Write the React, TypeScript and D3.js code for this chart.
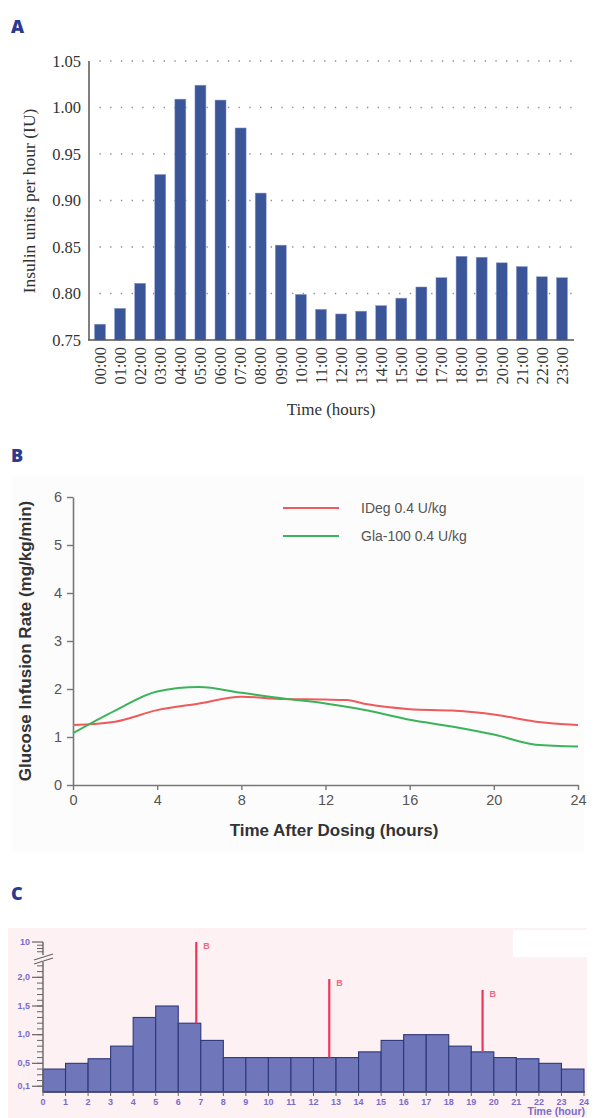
import * as d3 from "d3";
import { useEffect, useRef } from "react";

// ---- panel A: hourly basal insulin ----
const hourLabels = [
  "00:00", "01:00", "02:00", "03:00", "04:00", "05:00", "06:00", "07:00",
  "08:00", "09:00", "10:00", "11:00", "12:00", "13:00", "14:00", "15:00",
  "16:00", "17:00", "18:00", "19:00", "20:00", "21:00", "22:00", "23:00",
];
const insulinRate = [
  0.767, 0.784, 0.811, 0.928, 1.009, 1.024, 1.008, 0.978,
  0.908, 0.852, 0.799, 0.783, 0.778, 0.781, 0.787, 0.795,
  0.807, 0.817, 0.840, 0.839, 0.833, 0.829, 0.818, 0.817,
];
const insulinTicks = [0.75, 0.8, 0.85, 0.9, 0.95, 1.0, 1.05];

// ---- panel B: glucose infusion rate ----
const girHours = [0, 2, 4, 6, 8, 10, 12, 13, 14, 16, 18, 20, 22, 24];
const idegGir = [1.25, 1.32, 1.56, 1.70, 1.84, 1.79, 1.78, 1.77, 1.68, 1.58, 1.55, 1.47, 1.32, 1.25];
const glaGir = [1.08, 1.55, 1.95, 2.04, 1.92, 1.80, 1.70, 1.63, 1.55, 1.36, 1.22, 1.05, 0.84, 0.80];
const girXTicks = [0, 4, 8, 12, 16, 20, 24];
const girYTicks = [0, 1, 2, 3, 4, 5, 6];
const seriesNames = ["IDeg 0.4 U/kg", "Gla-100 0.4 U/kg"];

// ---- panel C: pump basal rate and boluses ----
const pumpHourTicks = [0, 1, 2, 3, 4, 5, 6, 7, 8, 9, 10, 11, 12, 13, 14, 15, 16, 17, 18, 19, 20, 21, 22, 23, 24];
const basalRate = [
  0.4, 0.5, 0.58, 0.8, 1.3, 1.5, 1.2, 0.9, 0.6, 0.6, 0.6, 0.6,
  0.6, 0.6, 0.7, 0.9, 1.0, 1.0, 0.8, 0.7, 0.6, 0.58, 0.5, 0.4,
];
const bolusTime = [6.8, 12.7, 19.5];
const bolusDose = [10, 1.97, 1.78];
const pumpYTicks = [0.1, 0.5, 1.0, 1.5, 2.0, 10];
const pumpYLabels = ["0,1", "0,5", "1,0", "1,5", "2,0", "10"];

const SERIF = "'Liberation Serif', 'Times New Roman', serif";
const SANS = "'Liberation Sans', Arial, sans-serif";

function App() {
  const ref = useRef<SVGSVGElement>(null);

  useEffect(() => {
    const svg = d3.select(ref.current);
    svg.selectAll("*").remove();

    // panel letters
    svg.selectAll(".letter")
      .data([["A", 33], ["B", 462], ["C", 900]])
      .join("text")
      .attr("x", 11)
      .attr("y", (d) => d[1])
      .text((d) => d[0])
      .attr("font-family", "'Open Sans', 'DejaVu Sans', sans-serif")
      .attr("font-weight", 800)
      .attr("font-size", 18)
      .attr("fill", "#2b3a8f");

    // ================= A =================
    const gA = svg.append("g");
    const xA = d3.scaleBand().domain(hourLabels).range([89, 573]).paddingInner(0.453).paddingOuter(0.274);
    const yA = d3.scaleLinear().domain([0.75, 1.05]).range([340, 61]);

    gA.selectAll(".grid")
      .data(insulinTicks.slice(1))
      .join("line")
      .attr("x1", 99.5)
      .attr("x2", 575)
      .attr("y1", (d) => yA(d))
      .attr("y2", (d) => yA(d))
      .attr("stroke", "#8a8a8a")
      .attr("stroke-width", 1.3)
      .attr("stroke-dasharray", "1.3,9.4");

    gA.selectAll(".bar")
      .data(insulinRate)
      .join("rect")
      .attr("x", (d, i) => xA(hourLabels[i]))
      .attr("width", xA.bandwidth())
      .attr("y", (d) => yA(d))
      .attr("height", (d) => yA(0.75) - yA(d))
      .attr("fill", "#3a5598")
      .attr("stroke", "#8f9bd0")
      .attr("stroke-width", 0.5);

    gA.append("line").attr("x1", 89).attr("x2", 89).attr("y1", 61).attr("y2", 340)
      .attr("stroke", "#555").attr("stroke-width", 1.5);
    gA.append("line").attr("x1", 88).attr("x2", 574).attr("y1", 340).attr("y2", 340)
      .attr("stroke", "#555").attr("stroke-width", 1.5);

    gA.selectAll(".ylab")
      .data(insulinTicks)
      .join("text")
      .attr("x", 81)
      .attr("y", (d) => yA(d))
      .attr("dy", "0.35em")
      .attr("text-anchor", "end")
      .text((d) => d.toFixed(2))
      .attr("font-family", SERIF)
      .attr("font-size", 16.5)
      .attr("fill", "#333");

    gA.selectAll(".xlab")
      .data(hourLabels)
      .join("text")
      .attr("transform", (d) => `translate(${xA(d) + xA.bandwidth() / 2}, 347) rotate(-90)`)
      .attr("dy", "0.35em")
      .attr("text-anchor", "end")
      .text((d) => d)
      .attr("font-family", SERIF)
      .attr("font-size", 16.5)
      .attr("fill", "#333");

    gA.append("text")
      .attr("x", 331)
      .attr("y", 415)
      .attr("text-anchor", "middle")
      .text("Time (hours)")
      .attr("font-family", SERIF)
      .attr("font-size", 17)
      .attr("fill", "#333");

    gA.append("text")
      .attr("transform", "translate(35, 201) rotate(-90)")
      .attr("text-anchor", "middle")
      .text("Insulin units per hour (IU)")
      .attr("font-family", SERIF)
      .attr("font-size", 17.5)
      .attr("fill", "#333");

    // ================= B =================
    const gB = svg.append("g");
    gB.append("rect").attr("x", 11).attr("y", 476).attr("width", 573).attr("height", 376).attr("fill", "#fcfcfc");

    const xB = d3.scaleLinear().domain([0, 24]).range([73, 578]);
    const yB = d3.scaleLinear().domain([0, 6]).range([785, 497]);

    const axB = gB.append("g").attr("transform", "translate(0,785)")
      .call(d3.axisBottom(xB).tickValues(girXTicks).tickFormat(d3.format("d")).tickSize(5).tickSizeOuter(0).tickPadding(5));
    const ayB = gB.append("g").attr("transform", "translate(73,0)")
      .call(d3.axisLeft(yB).tickValues(girYTicks).tickFormat(d3.format("d")).tickSize(6).tickSizeOuter(0).tickPadding(5));
    [axB, ayB].forEach((ax) => {
      ax.select(".domain").attr("stroke", "#777").attr("stroke-width", 1.6);
      ax.selectAll(".tick line").attr("stroke", "#777").attr("stroke-width", 1.4);
      ax.selectAll(".tick text").attr("font-family", SANS).attr("font-size", 14.5).attr("fill", "#555");
    });

    const lineB = d3.line<number>()
      .x((d, i) => xB(girHours[i]))
      .y((d) => yB(d))
      .curve(d3.curveMonotoneX);

    const colorsB = ["#ef5a5c", "#3cb35b"];
    gB.selectAll(".series")
      .data([idegGir, glaGir])
      .join("path")
      .attr("d", (d) => lineB(d))
      .attr("fill", "none")
      .attr("stroke", (d, i) => colorsB[i])
      .attr("stroke-width", 2);

    const leg = gB.selectAll(".leg").data(seriesNames).join("g")
      .attr("transform", (d, i) => `translate(283, ${508 + i * 28})`);
    leg.append("line").attr("x1", 0).attr("x2", 56).attr("stroke", (d, i) => colorsB[i]).attr("stroke-width", 2.2);
    leg.append("text")
      .attr("x", 78)
      .attr("dy", "0.35em")
      .text((d) => d)
      .attr("font-family", SANS)
      .attr("font-size", 14)
      .attr("fill", "#555");

    gB.append("text")
      .attr("x", 334)
      .attr("y", 836)
      .attr("text-anchor", "middle")
      .text("Time After Dosing (hours)")
      .attr("font-family", SANS)
      .attr("font-weight", "bold")
      .attr("font-size", 17)
      .attr("fill", "#333");

    gB.append("text")
      .attr("transform", "translate(31, 641) rotate(-90)")
      .attr("text-anchor", "middle")
      .text("Glucose Infusion Rate (mg/kg/min)")
      .attr("font-family", SANS)
      .attr("font-weight", "bold")
      .attr("font-size", 17)
      .attr("fill", "#333");

    // ================= C =================
    const gC = svg.append("g");
    gC.append("rect").attr("x", 8).attr("y", 928).attr("width", 579).attr("height", 190).attr("fill", "#fdf1f4");
    gC.append("rect").attr("x", 513).attr("y", 930).attr("width", 74).attr("height", 27).attr("fill", "#ffffff");

    const xC = d3.scaleLinear().domain([0, 24]).range([43, 584]);
    const yC = d3.scaleLinear().domain([0, 2.25, 9.6, 10]).range([1092, 963, 955, 942]);
    const purple = "#7b6ccb";

    gC.selectAll(".basal")
      .data(basalRate)
      .join("rect")
      .attr("x", (d, i) => xC(i))
      .attr("width", xC(1) - xC(0))
      .attr("y", (d) => yC(d))
      .attr("height", (d) => yC(0) - yC(d))
      .attr("fill", "#6f77ba")
      .attr("stroke", "#2c3878")
      .attr("stroke-width", 1.1);

    gC.append("line").attr("x1", 43).attr("x2", 585).attr("y1", 1092).attr("y2", 1092)
      .attr("stroke", "#3c4470").attr("stroke-width", 1.5);

    // bolus spikes
    gC.selectAll(".bolus")
      .data(bolusTime)
      .join("line")
      .attr("x1", (d) => xC(d))
      .attr("x2", (d) => xC(d))
      .attr("y1", (d, i) => yC(bolusDose[i]))
      .attr("y2", (d) => yC(basalRate[Math.floor(d)]))
      .attr("stroke", "#e8385c")
      .attr("stroke-width", 2.2);
    gC.selectAll(".bolusLab")
      .data(bolusTime)
      .join("text")
      .attr("x", (d) => xC(d) + 7)
      .attr("y", (d, i) => yC(bolusDose[i]) + 7)
      .text("B")
      .attr("font-family", SANS)
      .attr("font-weight", "bold")
      .attr("font-size", 9)
      .attr("fill", "#ee6a82");

    // y axis with break
    const axisC = "#666";
    gC.append("line").attr("x1", 43).attr("x2", 43).attr("y1", 942).attr("y2", 955).attr("stroke", axisC).attr("stroke-width", 1.4);
    gC.append("line").attr("x1", 43).attr("x2", 43).attr("y1", 962).attr("y2", 1092).attr("stroke", axisC).attr("stroke-width", 1.4);
    [0, 4].forEach((off) => {
      gC.append("line").attr("x1", 34).attr("x2", 53).attr("y1", 960 + off).attr("y2", 954 + off)
        .attr("stroke", axisC).attr("stroke-width", 1.3);
    });
    const minorC = d3.range(1, 23).map((k) => k / 10).concat([9.7, 9.8, 9.9]);
    gC.selectAll(".minor")
      .data(minorC)
      .join("line")
      .attr("x1", 37)
      .attr("x2", 43)
      .attr("y1", (d) => yC(d))
      .attr("y2", (d) => yC(d))
      .attr("stroke", axisC)
      .attr("stroke-width", 1);
    gC.selectAll(".major")
      .data(pumpYTicks)
      .join("line")
      .attr("x1", 32)
      .attr("x2", 43)
      .attr("y1", (d) => yC(d))
      .attr("y2", (d) => yC(d))
      .attr("stroke", axisC)
      .attr("stroke-width", 1.2);
    gC.selectAll(".ylabC")
      .data(pumpYTicks)
      .join("text")
      .attr("x", 30)
      .attr("y", (d) => yC(d))
      .attr("dy", "0.3em")
      .attr("text-anchor", "end")
      .text((d, i) => pumpYLabels[i])
      .attr("font-family", SANS)
      .attr("font-weight", "bold")
      .attr("font-size", 9)
      .attr("fill", purple);

    gC.selectAll(".xtickC")
      .data(pumpHourTicks)
      .join("line")
      .attr("x1", (d) => xC(d))
      .attr("x2", (d) => xC(d))
      .attr("y1", 1092)
      .attr("y2", 1096)
      .attr("stroke", axisC);
    gC.selectAll(".xlabC")
      .data(pumpHourTicks)
      .join("text")
      .attr("x", (d) => xC(d))
      .attr("y", 1105)
      .attr("text-anchor", "middle")
      .text((d) => d)
      .attr("font-family", SANS)
      .attr("font-weight", "bold")
      .attr("font-size", 9)
      .attr("fill", purple);
    gC.append("text")
      .attr("x", 585)
      .attr("y", 1115)
      .attr("text-anchor", "end")
      .text("Time (hour)")
      .attr("font-family", SANS)
      .attr("font-weight", "bold")
      .attr("font-size", 10.5)
      .attr("fill", purple);

    return () => {
      svg.selectAll("*").remove();
    };
  }, []);

  return (
    <svg
      ref={ref}
      width={595}
      height={1118}
      style={{ position: "absolute", left: 0, top: 0, background: "#fff" }}
    />
  );
}

export default App;
